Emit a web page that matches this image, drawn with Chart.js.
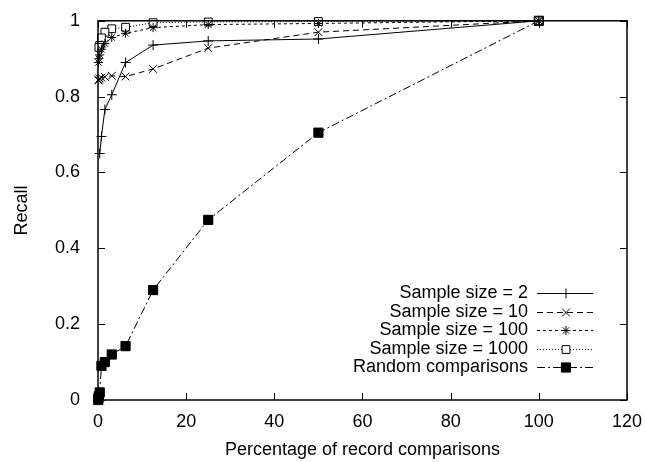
<!DOCTYPE html>
<html>
<head>
<meta charset="utf-8">
<script src="https://cdn.jsdelivr.net/npm/chart.js@4.4.0/dist/chart.umd.min.js"></script>
<style>
  html, body { margin: 0; padding: 0; background: #fff; }
  #wrap { width: 645px; height: 462px; }
</style>
</head>
<body>
<div id="wrap"><canvas id="chart" width="645" height="462"></canvas></div>
<script>
// x positions (percentage of record comparisons), shared by all series
const percentages = [100, 50, 25, 12.5, 6.25, 3.125, 1.5625, 0.78, 0.39, 0.2, 0.1, 0.05];

const recallSize2    = [1, 0.952, 0.947, 0.936, 0.89, 0.805, 0.766, 0.695, 0.65];
const recallSize10   = [1, 0.97, 0.928, 0.873, 0.853, 0.855, 0.852, 0.85, 0.848, 0.845, 0.843];
const recallSize100  = [1, 0.993, 0.99, 0.982, 0.967, 0.956, 0.94, 0.925, 0.91, 0.9, 0.89];
const recallSize1000 = [1, 0.998, 0.997, 0.995, 0.983, 0.979, 0.97, 0.955, 0.935, 0.93];
const recallRandom   = [1, 0.705, 0.475, 0.29, 0.142, 0.12, 0.1, 0.09, 0.02, 0.01, 0.005, 0];

const seriesLabels = [
    'Sample size = 2',
    'Sample size = 10',
    'Sample size = 100',
    'Sample size = 1000',
    'Random comparisons'
];

const xTitle = 'Percentage of record comparisons';
const yTitle = 'Recall';

Chart.defaults.font.family = '"Liberation Sans", Arial, Helvetica, sans-serif';
Chart.defaults.font.size = 18;
Chart.defaults.color = '#000';

function toPoints(values) {
    return values.map((v, i) => ({ x: percentages[i], y: v }));
}

function series(label, values, pointStyle, radius, dash, fill) {
    return {
        label: label,
        data: toPoints(values),
        showLine: true,
        borderColor: '#000',
        borderWidth: 1,
        borderDash: dash,
        pointStyle: pointStyle,
        pointRadius: radius,
        pointBorderWidth: 1,
        pointBorderColor: '#000',
        pointBackgroundColor: fill,
        clip: false
    };
}

const datasets = [
    series(seriesLabels[0], recallSize2, 'cross', 5, [], '#000'),
    series(seriesLabels[1], recallSize10, 'crossRot', 5.5, [6, 4], '#000'),
    series(seriesLabels[2], recallSize100, 'star', 4.5, [3, 3], '#000'),
    series(seriesLabels[3], recallSize1000, 'rect', 5.5, [1, 2], '#fff'),
    series(seriesLabels[4], recallRandom, 'rect', 6.5, [8, 3, 2, 3], '#000')
];

// gnuplot style frame: full box and inward ticks on all four sides
const framePlugin = {
    id: 'frame',
    afterDatasetsDraw(chart) {
        const { ctx, chartArea: a, scales: { x, y } } = chart;
        const len = 7;
        ctx.save();
        ctx.strokeStyle = '#000';
        ctx.lineWidth = 1;
        ctx.setLineDash([]);
        ctx.beginPath();
        x.ticks.forEach(t => {
            const px = Math.round(x.getPixelForValue(t.value)) + 0.5;
            ctx.moveTo(px, a.bottom); ctx.lineTo(px, a.bottom - len);
            ctx.moveTo(px, a.top); ctx.lineTo(px, a.top + len);
        });
        y.ticks.forEach(t => {
            const py = Math.round(y.getPixelForValue(t.value)) + 0.5;
            ctx.moveTo(a.left, py); ctx.lineTo(a.left + len, py);
            ctx.moveTo(a.right, py); ctx.lineTo(a.right - len, py);
        });
        ctx.stroke();
        ctx.lineWidth = 1.5;
        ctx.strokeRect(a.left, a.top, a.right - a.left, a.bottom - a.top);
        ctx.restore();
    }
};

// legend inside the plot, right aligned text with the sample to its right
const keyPlugin = {
    id: 'key',
    afterDraw(chart) {
        const { ctx, chartArea: a } = chart;
        const textRight = a.right - 99;
        const lineStart = a.right - 90;
        const lineEnd = a.right - 34;
        const markX = a.right - 61;
        const firstRow = a.bottom - 107;
        const rowStep = 18.6;
        ctx.save();
        ctx.font = '18px "Liberation Sans", Arial, sans-serif';
        ctx.textAlign = 'right';
        ctx.textBaseline = 'middle';
        chart.data.datasets.forEach((ds, i) => {
            const yy = firstRow + i * rowStep;
            ctx.fillStyle = '#000';
            ctx.fillText(ds.label, textRight, yy);
            ctx.strokeStyle = '#000';
            ctx.lineWidth = 1;
            ctx.setLineDash(ds.borderDash);
            ctx.beginPath();
            ctx.moveTo(lineStart, Math.round(yy) + 0.5);
            ctx.lineTo(lineEnd, Math.round(yy) + 0.5);
            ctx.stroke();
            ctx.setLineDash([]);
            ctx.fillStyle = ds.pointBackgroundColor;
            Chart.helpers.drawPoint(ctx, {
                pointStyle: ds.pointStyle,
                radius: ds.pointRadius,
                borderWidth: 1,
                rotation: 0
            }, markX, Math.round(yy) + 0.5);
        });
        ctx.restore();
    }
};

new Chart(document.getElementById('chart'), {
    type: 'scatter',
    data: { datasets: datasets },
    options: {
        responsive: false,
        animation: false,
        devicePixelRatio: 1,
        layout: { padding: { top: 11, right: 18, left: 0, bottom: 0 } },
        plugins: {
            legend: { display: false },
            tooltip: { enabled: false }
        },
        scales: {
            x: {
                type: 'linear',
                min: 0,
                max: 120,
                ticks: { stepSize: 20, padding: 3, color: '#000' },
                grid: { display: false },
                border: { display: false },
                title: { display: true, text: xTitle, color: '#000', padding: { top: 0, bottom: 1 } },
                afterFit: scale => { scale.height = 62; }
            },
            y: {
                min: 0,
                max: 1,
                ticks: {
                    stepSize: 0.2,
                    padding: 10,
                    color: '#000',
                    callback: v => String(+v.toFixed(1))
                },
                grid: { display: false },
                border: { display: false },
                title: { display: true, text: yTitle, color: '#000', padding: { top: 11, bottom: 0 } },
                afterFit: scale => { scale.width = 98; }
            }
        }
    },
    plugins: [framePlugin, keyPlugin]
});
</script>
</body>
</html>
